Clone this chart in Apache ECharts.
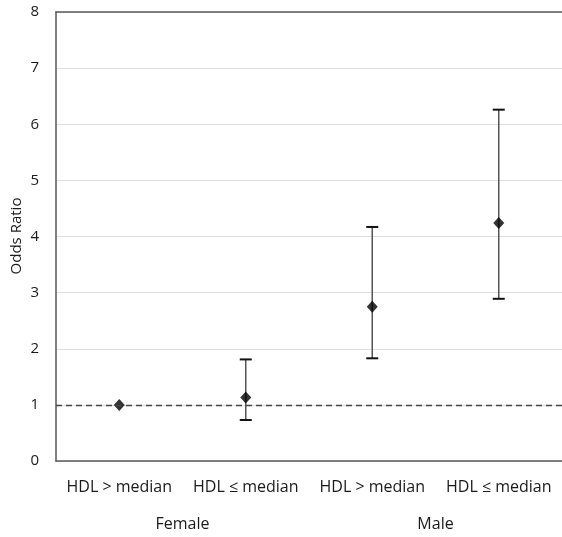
<!DOCTYPE html>
<html>
<head>
<meta charset="utf-8">
<script src="https://cdn.jsdelivr.net/npm/echarts@6/dist/echarts.min.js"></script>
<style>
  html, body { margin: 0; padding: 0; background: #fff; }
  #chart { width: 562px; height: 537px; }
</style>
</head>
<body>
<div id="chart"></div>
<script>
// Subgroup categories and their sex groups
const categories = ['HDL > median', 'HDL ≤ median', 'HDL > median', 'HDL ≤ median'];
const groups = ['Female', 'Male'];
// Odds ratios with 95% confidence limits
const oddsRatio = [1.0, 1.13, 2.75, 4.24];
const lowerCI = [null, 0.73, 1.83, 2.89];
const upperCI = [null, 1.81, 4.17, 6.26];
const referenceValue = 1;
const yTicks = { min: 0, max: 8, interval: 1 };

const FONT = '"Open Sans", "Liberation Sans", sans-serif';
const TEXT = '#1a1a1a';
const chart = echarts.init(document.getElementById('chart'));

const errorData = categories.map((c, i) => [i, lowerCI[i], upperCI[i]]).filter(d => d[1] != null);

chart.setOption({
  animation: false,
  grid: { left: 56, right: -1, top: 12, bottom: 76, containLabel: false },
  xAxis: [
    {
      type: 'category',
      data: categories,
      position: 'bottom',
      axisLine: { lineStyle: { color: '#595959', width: 1.5 } },
      axisTick: { show: false },
      axisLabel: { interval: 0, hideOverlap: false, color: TEXT, fontFamily: FONT, fontSize: 16, margin: 18 }
    },
    {
      type: 'category',
      data: groups,
      position: 'bottom',
      offset: 47,
      axisLine: { show: false },
      axisTick: { show: false },
      axisLabel: { interval: 0, color: TEXT, fontFamily: FONT, fontSize: 16 }
    },
    {
      type: 'category',
      data: categories,
      position: 'top',
      axisLine: { lineStyle: { color: '#595959', width: 1.5 } },
      axisTick: { show: false },
      axisLabel: { show: false }
    }
  ],
  yAxis: {
    type: 'value',
    min: yTicks.min,
    max: yTicks.max,
    interval: yTicks.interval,
    axisLine: { show: true, lineStyle: { color: '#595959', width: 1.5 } },
    axisTick: { show: false },
    axisLabel: { color: TEXT, fontFamily: FONT, fontSize: 15, margin: 17 },
    splitLine: { lineStyle: { color: '#dedede', width: 1 } }
  },
  graphic: [
    {
      type: 'text',
      x: 17, y: 236,
      rotation: Math.PI / 2,
      style: {
        text: 'Odds Ratio',
        fill: TEXT,
        font: '15px ' + FONT,
        align: 'center',
        verticalAlign: 'middle'
      }
    }
  ],
  series: [
    {
      type: 'custom',
      xAxisIndex: 0,
      data: errorData,
      z: 2,
      renderItem: function (params, api) {
        const x = api.value(0);
        const lo = api.coord([x, api.value(1)]);
        const hi = api.coord([x, api.value(2)]);
        const half = 6;
        return {
          type: 'group',
          children: [
            { type: 'line', shape: { x1: lo[0], y1: lo[1], x2: hi[0], y2: hi[1] },
              style: { stroke: '#555', lineWidth: 1.5 } },
            { type: 'line', shape: { x1: lo[0] - half, y1: lo[1], x2: lo[0] + half, y2: lo[1] },
              style: { stroke: '#111', lineWidth: 2 } },
            { type: 'line', shape: { x1: hi[0] - half, y1: hi[1], x2: hi[0] + half, y2: hi[1] },
              style: { stroke: '#111', lineWidth: 2 } }
          ]
        };
      }
    },
    {
      type: 'scatter',
      xAxisIndex: 0,
      data: oddsRatio.map((v, i) => [i, v]),
      symbol: 'diamond',
      symbolSize: [11, 12],
      itemStyle: { color: '#000' },
      z: 3,
      markLine: {
        silent: true,
        symbol: 'none',
        label: { show: false },
        lineStyle: { color: '#444', type: [6, 4], width: 1.3 },
        data: [{ yAxis: referenceValue }]
      }
    }
  ]
});
</script>
</body>
</html>
